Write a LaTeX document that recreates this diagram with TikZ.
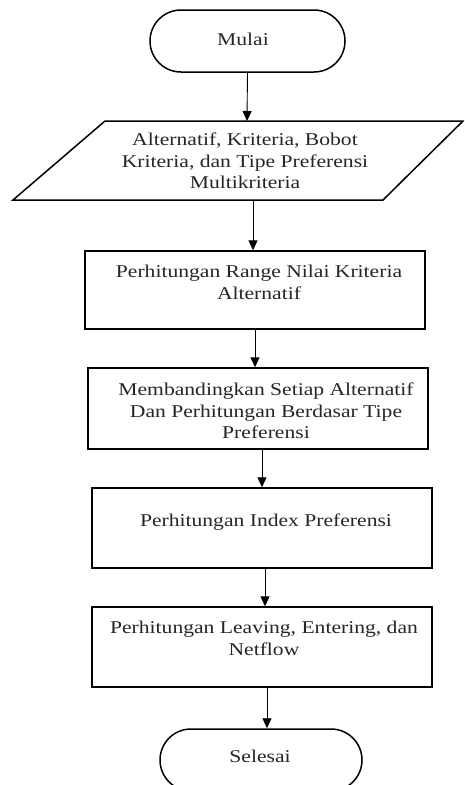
\documentclass[tikz,border=0pt]{standalone}
\usepackage{fontspec}
\usepackage{graphicx}
\setmainfont{Liberation Serif}
\usetikzlibrary{arrows.meta}
\newcommand\boxtxt[1]{\scalebox{1.2}[1]{\begin{tabular}{@{}c@{}}#1\end{tabular}}}
\begin{document}
\begin{tikzpicture}[x=1pt,y=-1pt,
  term/.style={draw, line width=1.5pt, rectangle, rounded corners=31pt, inner sep=0pt, minimum height=62pt},
  procbox/.style={draw, line width=1.4pt, inner sep=0pt, minimum width=340pt},
  lbl/.style={align=center, font=\fontsize{18}{21.5}\selectfont, inner sep=0pt, text=black!85},
  arr/.style={line width=0.9pt, -{Triangle[length=10pt,width=9pt]}}]
\useasboundingbox (0,0) rectangle (464,785);
\clip (0,0) rectangle (464,785);
\fill[white] (0,0) rectangle (464,785);
% start
\node[term, minimum width=195pt] (mulai) at (247.5,41) {};
\node[lbl] (mulait) at (243,41) {\boxtxt{Mulai}};
% input parallelogram
\draw[line width=1.5pt] (13,200) -- (105,121) -- (463,121) -- (383,200) -- cycle;
\coordinate (inTop) at (247,121);
\coordinate (inBot) at (253,200);
\node[lbl] (input) at (245,163) {\boxtxt{Alternatif, Kriteria, Bobot\\Kriteria, dan Tipe Preferensi\\Multikriteria}};
% process boxes
\node[procbox, minimum height=78pt] (r1) at (255,290) {};
\node[lbl] (r1t) at (259,284) {\boxtxt{Perhitungan Range Nilai Kriteria\\Alternatif}};
\node[procbox, minimum height=81pt] (r2) at (258,408.5) {};
\node[lbl] (r2t) at (266,413) {\boxtxt{Membandingkan Setiap Alternatif\\Dan Perhitungan Berdasar Tipe\\Preferensi}};
\node[procbox, minimum height=80pt] (r3) at (262,528) {};
\node[lbl] (r3t) at (266,522) {\boxtxt{Perhitungan Index Preferensi}};
\node[procbox, minimum height=80pt] (r4) at (262,647) {};
\node[lbl] (r4t) at (264,640) {\boxtxt{Perhitungan Leaving, Entering, dan\\Netflow}};
% end
\node[term, minimum width=202pt] (selesai) at (261,760) {};
\node[lbl] (selesait) at (260,758) {\boxtxt{Selesai}};
% arrows
\draw[arr] (mulai.south) -- (inTop);
\draw[arr] (inBot) -- (inBot |- r1.north);
\draw[arr] (r1.south) -- (r1.north |- r2.north);
\draw[arr] ([xshift=4pt]r2.south) -- ([xshift=4pt]r2.south |- r3.north);
\draw[arr] ([xshift=3pt]r3.south) -- ([xshift=3pt]r3.south |- r4.north);
\draw[arr] ([xshift=5pt]r4.south) -- ([xshift=5pt]r4.south |- selesai.north);
\end{tikzpicture}
\end{document}
